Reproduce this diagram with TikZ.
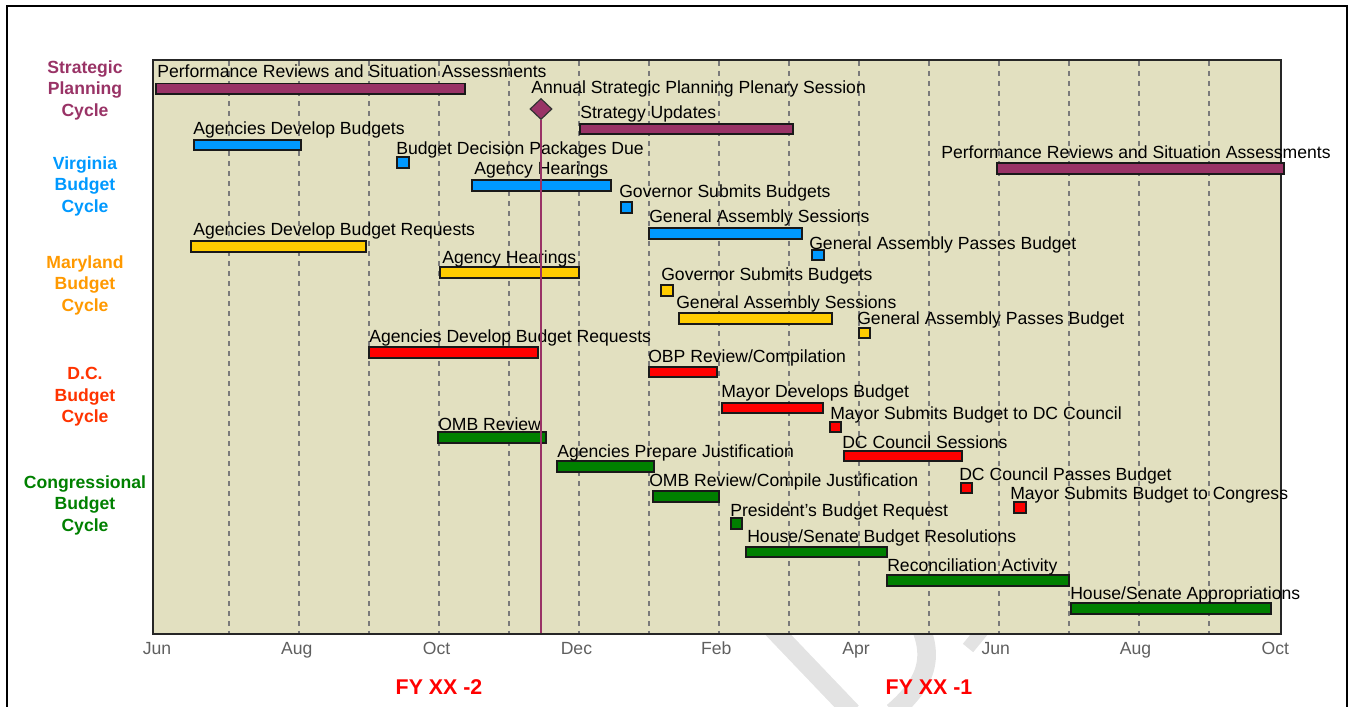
\documentclass[tikz,border=0pt]{standalone}
\usepackage{fontspec}
\setmainfont{Liberation Sans}
\usetikzlibrary{shapes.geometric}
\definecolor{cpurple}{HTML}{993366}
\definecolor{cblue}{HTML}{0099FF}
\definecolor{cyellow}{HTML}{FFCC00}
\definecolor{corange}{HTML}{FF9900}
\definecolor{cred}{HTML}{FF0000}
\definecolor{cdctext}{HTML}{FF3300}
\definecolor{cgreen}{HTML}{008000}
\definecolor{cbg}{HTML}{E2E0C0}
\definecolor{cgrid}{HTML}{7A7A7A}
\definecolor{caxis}{HTML}{5F5F5F}
\definecolor{cwm}{HTML}{E3E3E3}
\newcommand{\GBar}[8]{%
  \draw[barstyle, fill=#5] (#1,#2) rectangle (#3,#4);
  \node[lbl] at (#6,#7) {#8};
}
\begin{document}
\begin{tikzpicture}[x=0.75pt,y=-0.75pt,
  barstyle/.style={draw=black!90, line width=1.15pt},
  lbl/.style={anchor=base west, inner sep=0pt, font=\fontsize{13.2}{15}\selectfont},
  side/.style={align=center, inner sep=0pt, font=\fontsize{13.2}{16.1}\selectfont\bfseries},
  axlbl/.style={anchor=base, inner sep=0pt, text=caxis, font=\fontsize{13.2}{15}\selectfont},
  fylbl/.style={anchor=base, inner sep=0pt, text=cred, font=\fontsize{16}{18}\selectfont\bfseries},
  grid/.style={cgrid, line width=0.8pt, dash pattern=on 4pt off 3.5pt},
  wm/.style={cwm, line width=14pt}
]
\useasboundingbox (0,0) rectangle (1351,706);
\begin{scope}
\clip (0,0) rectangle (1351,706);
% outer frame
\draw[line width=1.4pt, black] (7,6) rectangle (1347,730);
% watermark fragments
\draw[wm] (745,600) -- (852,712);
\draw[wm] (905,600) .. controls (940,650) and (930,680) .. (893,712);
\draw[wm, line width=10pt] (986,626) -- (968,648);
\end{scope}

% plot area
\fill[cbg] (153,60) rectangle (1281,634);
\foreach \k in {0,...,14} {
  \draw[grid] ({229+70*\k},61) -- ({229+70*\k},633);
}
\draw[line width=1.3pt, black!85] (153,60) rectangle (1281,634);

% axis labels
\foreach \m [count=\i from 0] in {Jun,Aug,Oct,Dec,Feb,Apr,Jun,Aug,Oct} {
  \node[axlbl] (ax\i) at ({157+139.8*\i},654) {\m};
}
\node[fylbl] (fy2) at (439,694) {FY XX -2};
\node[fylbl] (fy1) at (929,694) {FY XX -1};

% side labels
\node[side, text=cpurple] (sp) at (85,90) {Strategic\\Planning\\Cycle};
\node[side, text=cblue] (va) at (85,186) {Virginia\\Budget\\Cycle};
\node[side, text=corange] (md) at (85,285) {Maryland\\Budget\\Cycle};
\node[side, text=cdctext] (dc) at (85,397) {D.C.\\Budget\\Cycle};
\node[side, text=cgreen] (cg) at (85,505) {Congressional\\Budget\\Cycle};

% Strategic planning
\GBar{156}{83.5}{465}{94}{cpurple}{157}{78}{Performance Reviews and Situation Assessments}
\GBar{580}{124}{793}{134}{cpurple}{580}{119}{Strategy Updates}
\GBar{997}{163}{1284}{174}{cpurple}{941}{158}{Performance Reviews and Situation Assessments}
\node[lbl] (annual) at (531,94) {Annual Strategic Planning Plenary Session};

% Virginia
\GBar{194}{140}{301}{150}{cblue}{193}{135}{Agencies Develop Budgets}
\GBar{397}{157}{409}{168}{cblue}{396}{155}{Budget Decision Packages Due}
\GBar{472}{180}{611}{191}{cblue}{474}{174}{Agency Hearings}
\GBar{621}{202}{632}{213}{cblue}{619}{197}{Governor Submits Budgets}
\GBar{649}{228}{802}{239}{cblue}{649}{222}{General Assembly Sessions}
\GBar{812}{250}{824}{260}{cblue}{809}{249}{General Assembly Passes Budget}

% Maryland
\GBar{191}{241}{366}{252}{cyellow}{193}{235}{Agencies Develop Budget Requests}
\GBar{440}{267}{579}{278}{cyellow}{442}{263}{Agency Hearings}
\GBar{661}{285}{673}{296}{cyellow}{661}{280}{Governor Submits Budgets}
\GBar{679}{313}{832}{324}{cyellow}{676}{308}{General Assembly Sessions}
\GBar{859}{328}{870}{338}{cyellow}{857}{324}{General Assembly Passes Budget}

% DC
\GBar{369}{347}{538}{358}{cred}{369}{342}{Agencies Develop Budget Requests}
\GBar{649}{367}{717}{377}{cred}{648}{362}{OBP Review/Compilation}
\GBar{722}{403}{823}{413}{cred}{721}{397}{Mayor Develops Budget}
\GBar{830}{422}{841}{432}{cred}{830}{419}{Mayor Submits Budget to DC Council}
\GBar{844}{451}{962}{461}{cred}{842}{448}{DC Council Sessions}
\GBar{961}{483}{972}{493}{cred}{959}{480}{DC Council Passes Budget}
\GBar{1014}{502}{1026}{513}{cred}{1010}{499}{Mayor Submits Budget to Congress}

% Congressional
\GBar{438}{432}{546}{443}{cgreen}{438}{430}{OMB Review}
\GBar{557}{461}{654}{472}{cgreen}{557}{457}{Agencies Prepare Justification}
\GBar{653}{491}{719}{502}{cgreen}{649}{486}{OMB Review/Compile Justification}
\GBar{731}{518}{742}{529}{cgreen}{730}{516}{President’s Budget Request}
\GBar{746}{547}{887}{557}{cgreen}{747}{542}{House/Senate Budget Resolutions}
\GBar{887}{575}{1069}{586}{cgreen}{887}{571}{Reconciliation Activity}
\GBar{1071}{603}{1271}{614}{cgreen}{1070}{599}{House/Senate Appropriations}

% plenary session marker
\node[diamond, draw=black!80, line width=0.9pt, fill=cpurple, inner sep=0pt,
      minimum width=22*0.75pt, minimum height=21*0.75pt] (dia) at (541,109) {};
\coordinate (diabot) at (541,633);
\draw[cpurple, line width=1.1pt] (dia.south) -- (diabot);
\end{tikzpicture}
\end{document}
